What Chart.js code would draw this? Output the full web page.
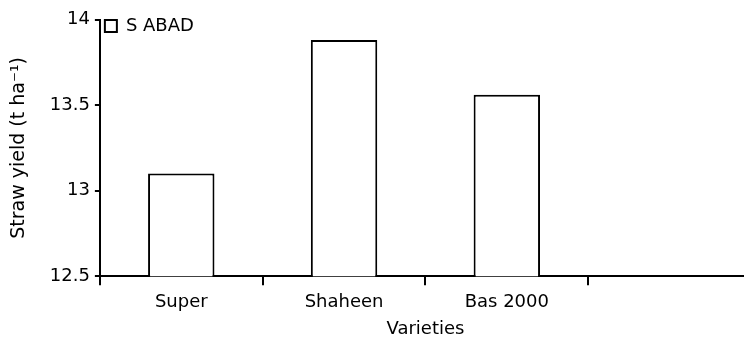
<!DOCTYPE html>
<html>
<head>
<meta charset="utf-8">
<script src="https://cdn.jsdelivr.net/npm/chart.js@4/dist/chart.umd.min.js"></script>
<style>
    html, body { margin: 0; padding: 0; background: #fff; overflow: hidden; }
    #wrap { width: 752px; height: 345px; }
</style>
</head>
<body>
<div id="wrap"><canvas id="strawChart" width="752" height="345"></canvas></div>
<script>
// Chart data
const varieties = ['Super', 'Shaheen', 'Bas 2000', ''];
const sAbad = [13.10, 13.88, 13.56, null];
const seriesName = 'S ABAD';
const yMin = 12.5;
const yMax = 14;
const yStep = 0.5;

Chart.defaults.font.family = "'DejaVu Sans', sans-serif";
Chart.defaults.font.size = 18;
Chart.defaults.color = '#000';

const ctx = document.getElementById('strawChart').getContext('2d');
const strawChart = new Chart(ctx, {
    type: 'bar',
    data: {
        labels: varieties,
        datasets: [
            {
                label: seriesName,
                data: sAbad,
                backgroundColor: '#fff',
                borderColor: '#000',
                borderWidth: 2,
                categoryPercentage: 0.8,
                barPercentage: 0.51
            }
        ]
    },
    options: {
        responsive: false,
        animation: false,
        devicePixelRatio: 1,
        layout: { padding: { top: 19.5, left: 8, right: 1, bottom: 2.5 } },
        plugins: {
            legend: {
                position: 'chartArea',
                align: 'start',
                // empty title only pushes the legend row down inside the plot
                title: { display: true, text: '', font: { size: 10 }, padding: 0 },
                labels: { boxWidth: 12, boxHeight: 12, padding: 5, font: { size: 18 } }
            },
            tooltip: { enabled: false }
        },
        scales: {
            x: {
                offset: true,
                grid: {
                    offset: true,
                    drawOnChartArea: false,
                    tickLength: 9,
                    lineWidth: 2,
                    color: '#000'
                },
                border: { color: '#000', width: 2 },
                ticks: { padding: 6, maxRotation: 0 },
                title: { display: true, text: 'Varieties', padding: { top: 0, bottom: 2 } }
            },
            y: {
                min: yMin,
                max: yMax,
                grid: {
                    drawOnChartArea: false,
                    tickLength: 5,
                    lineWidth: 2,
                    color: '#000'
                },
                border: { color: '#000', width: 2 },
                ticks: {
                    stepSize: yStep,
                    padding: 5,
                    callback: (value) => value.toString()
                },
                title: {
                    display: true,
                    text: 'Straw yield (t ha⁻¹)',
                    font: { size: 19 },
                    padding: { top: 0, bottom: 14 }
                }
            }
        }
    }
});
</script>
</body>
</html>
